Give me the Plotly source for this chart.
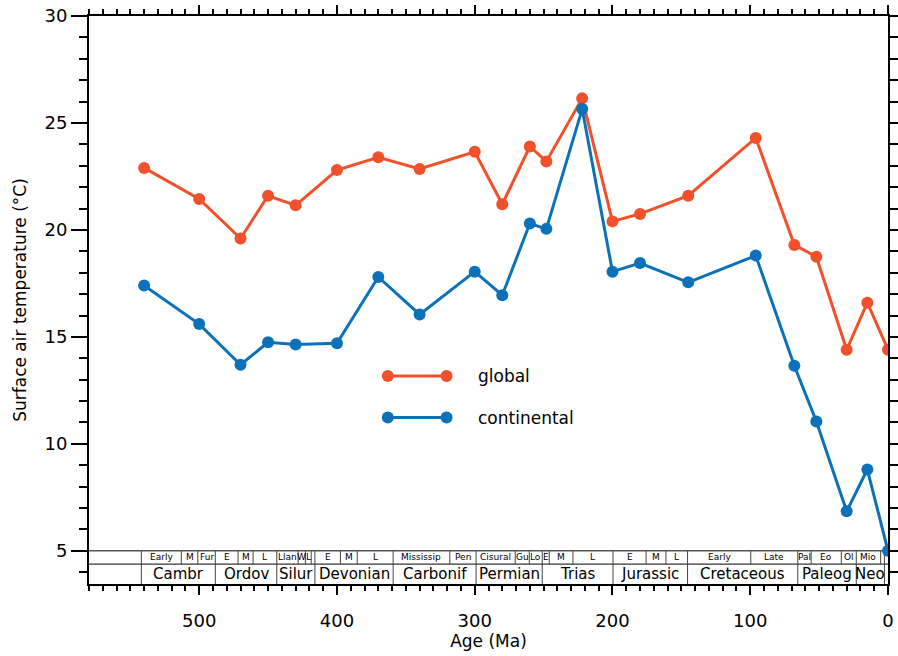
import plotly.graph_objects as go

# --- model results: surface air temperature through the Phanerozoic ---
age_ma = [540, 500, 470, 450, 430, 400, 370, 340, 300, 280, 260, 248, 222,
          200, 180, 145, 96, 68, 52, 30, 15, 0]
global_temp = [22.9, 21.45, 19.6, 21.6, 21.15, 22.8, 23.4, 22.85, 23.65, 21.2,
               23.9, 23.2, 26.15, 20.4, 20.75, 21.6, 24.3, 19.3, 18.75, 14.4,
               16.6, 14.4]
continental_temp = [17.4, 15.6, 13.7, 14.75, 14.65, 14.7, 17.8, 16.05, 18.05,
                    16.95, 20.3, 20.05, 25.65, 18.05, 18.45, 17.55, 18.8, 13.65,
                    11.05, 6.85, 8.8, 5.0]

# --- geological time scale (GTS 2004), ages in Ma ---
period_names = ["Cambr", "Ordov", "Silur", "Devonian", "Carbonif", "Permian",
                "Trias", "Jurassic", "Cretaceous", "Paleog", "Neo", ""]
period_bounds = [542, 488.3, 443.7, 416, 359.2, 299, 251, 199.6, 145.5, 65.5,
                 23.03, 2.588, 0]
epoch_names = ["Early", "M", "Fur", "E", "M", "L", "Llan", "W", "L", "", "E",
               "M", "L", "Mississip", "Pen", "Cisural", "Gu", "Lo", "E", "M",
               "L", "E", "M", "L", "Early", "Late", "Pal", "Eo", "Ol", "Mio",
               "", ""]
epoch_bounds = [542, 513, 501, 488.3, 471.8, 460.9, 443.7, 428.2, 422.9, 418.7,
                416, 397.5, 385.3, 359.2, 318.1, 299, 270.6, 260.4, 251, 245.9,
                228.7, 199.6, 175.6, 161.2, 145.5, 99.6, 65.5, 55.8, 33.9,
                23.03, 5.332, 2.588, 0]

series_names = ["global", "continental"]

# --- styling ---
ORANGE = "#F0502A"
BLUE = "#0B72BA"
FONT = "DejaVu Sans"
X_RANGE = [580, 0]
Y_RANGE = [3.45, 30]
TS_TOP = 5.0      # top of the time-scale strip (temperature units)
TS_MID = 4.38     # divider between epoch row and period row
LINE_W = 3
MARK_SIZE = 12

fig = go.Figure()

for name, temps, color in [(series_names[0], global_temp, ORANGE),
                           (series_names[1], continental_temp, BLUE)]:
    fig.add_trace(go.Scatter(
        x=age_ma, y=temps, mode="lines+markers", name=name,
        line=dict(color=color, width=LINE_W),
        marker=dict(color=color, size=MARK_SIZE),
        showlegend=False,
    ))

# --- in-plot legend: line sample with a dot at each end, plus a label ---
LEG_X = [0.374, 0.4475]
LEG_Y = [0.366, 0.293]
LEG_TEXT_X = 0.484
for name, color, ly in [(series_names[0], ORANGE, LEG_Y[0]),
                        (series_names[1], BLUE, LEG_Y[1])]:
    fig.add_trace(go.Scatter(
        x=LEG_X, y=[ly, ly], xaxis="x2", yaxis="y2", mode="lines+markers",
        line=dict(color=color, width=LINE_W),
        marker=dict(color=color, size=MARK_SIZE),
        showlegend=False, hoverinfo="skip",
    ))
    fig.add_annotation(
        x=LEG_TEXT_X, y=ly, xref="paper", yref="paper", text=name,
        showarrow=False, xanchor="left", yanchor="middle",
        font=dict(family=FONT, size=17, color="black"),
    )

# --- time-scale strip along the bottom ---
shapes = []
for y in (TS_TOP, TS_MID):
    shapes.append(dict(type="line", xref="x domain", yref="y", x0=0, x1=1,
                       y0=y, y1=y, line=dict(color="black", width=1),
                       layer="below"))
for b in epoch_bounds[:-1]:
    shapes.append(dict(type="line", xref="x", yref="y", x0=b, x1=b,
                       y0=TS_MID, y1=TS_TOP, line=dict(color="#444", width=1),
                       layer="below"))
for b in period_bounds[:-1]:
    shapes.append(dict(type="line", xref="x", yref="y", x0=b, x1=b,
                       y0=Y_RANGE[0], y1=TS_MID,
                       line=dict(color="#444", width=1), layer="below"))
fig.update_layout(shapes=shapes)

for i, name in enumerate(epoch_names):
    if name:
        fig.add_annotation(
            x=(epoch_bounds[i] + epoch_bounds[i + 1]) / 2,
            y=(TS_TOP + TS_MID) / 2, xref="x", yref="y", text=name,
            showarrow=False, font=dict(family=FONT, size=9, color="black"),
        )
for i, name in enumerate(period_names):
    if name:
        fig.add_annotation(
            x=(period_bounds[i] + period_bounds[i + 1]) / 2,
            y=(TS_MID + Y_RANGE[0]) / 2, xref="x", yref="y", text=name,
            showarrow=False, font=dict(family=FONT, size=15, color="black"),
        )

axis_common = dict(showline=True, linecolor="black", linewidth=2,
                   showgrid=False, zeroline=False, mirror="ticks",
                   ticks="outside", tickcolor="black", tickwidth=2,
                   automargin=False,
                   tickfont=dict(family=FONT, size=18, color="black"))

fig.update_layout(
    width=898, height=656,
    margin=dict(l=89, r=10, t=16, b=72),
    paper_bgcolor="white", plot_bgcolor="white",
    xaxis=dict(range=X_RANGE, dtick=100, tick0=0, ticklen=9,
               ticklabelstandoff=10,
               minor=dict(dtick=10, ticks="outside", ticklen=5,
                          tickcolor="black", tickwidth=2),
               title=dict(text="Age (Ma)",
                          font=dict(family=FONT, size=17, color="black"),
                          standoff=4),
               **axis_common),
    yaxis=dict(range=Y_RANGE, dtick=5, tick0=0, ticklen=16,
               minor=dict(dtick=1, ticks="outside", ticklen=8,
                          tickcolor="black", tickwidth=2),
               title=dict(text="Surface air temperature (°C)",
                          font=dict(family=FONT, size=17, color="black"),
                          standoff=14),
               **axis_common),
    xaxis2=dict(overlaying="x", range=[0, 1], visible=False),
    yaxis2=dict(overlaying="y", range=[0, 1], visible=False),
)

fig.write_html("out.html")
